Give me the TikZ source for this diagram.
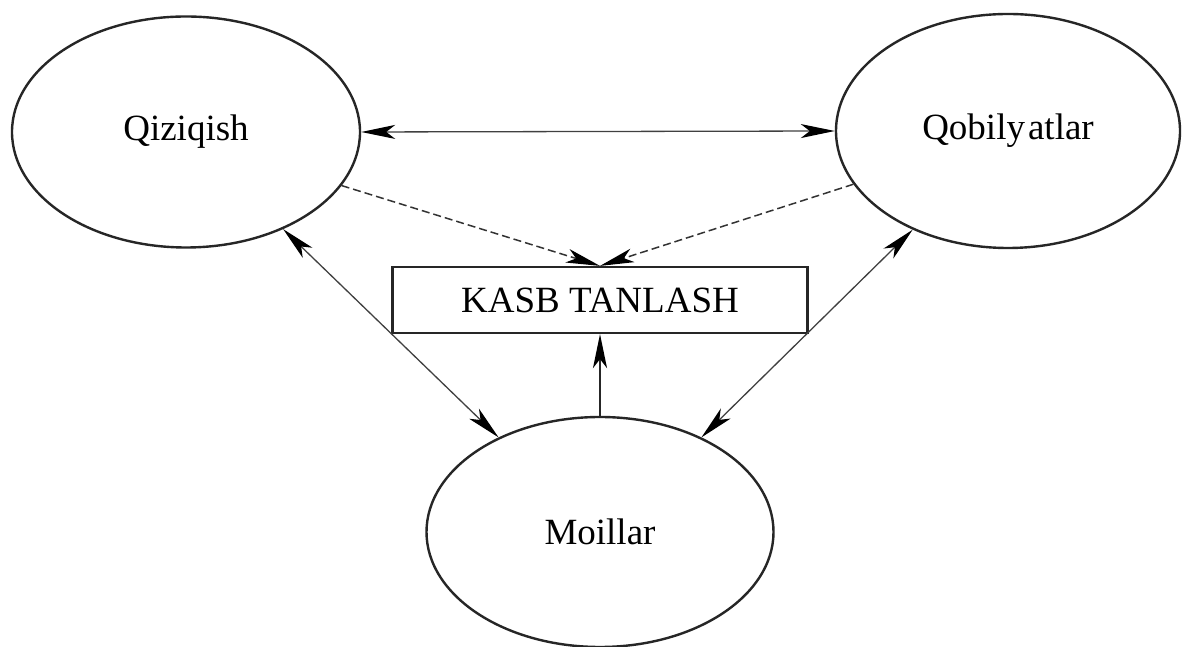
\documentclass[tikz,border=0pt]{standalone}
\usepackage{fontspec}
\setmainfont{Liberation Serif}
\usetikzlibrary{shapes.geometric,arrows.meta}
\begin{document}
\begin{tikzpicture}[x=1pt,y=1pt,
  >={Stealth[length=34pt,width=14pt,inset=9pt,black]},
  oval/.style={draw=black!85, line width=2.4pt, ellipse, inner sep=0pt, font=\fontsize{37}{40}\selectfont},
  choicebox/.style={draw=black!85, line width=2.2pt, rectangle, inner sep=0pt, minimum width=415pt, minimum height=66pt, font=\fontsize{37}{40}\selectfont},
  thin link/.style={draw=black!75, line width=1.3pt},
  dash link/.style={draw=black!80, line width=1.5pt, dash pattern=on 8pt off 4pt},
  main link/.style={draw=black!85, line width=2.4pt}]
\useasboundingbox (0,0) rectangle (1182,647);
\fill[white] (0,0) rectangle (1182,647);
\node[oval, minimum width=348pt, minimum height=231pt] (L) at (186,515) {Qiziqish};
\node[oval, minimum width=344pt, minimum height=234pt] (R) at (1008,516) {Qobily\kern3pt atlar};
\node[oval, minimum width=347pt, minimum height=230pt] (B) at (600,115) {Moillar};
\node[choicebox] (K) at (600,347) {KASB TANLASH};
\draw[thin link, <->] (L.east) -- (R.west);
\draw[dash link, ->] (L.-19) -- (K.north);
\draw[dash link, ->] (R.199) -- (K.north);
\draw[thin link, <->] (L.-45) -- (B.137);
\draw[thin link, <->] (R.-134) -- (B.43);
\draw[main link, ->] (B.north) -- (K.south);
\end{tikzpicture}
\end{document}
